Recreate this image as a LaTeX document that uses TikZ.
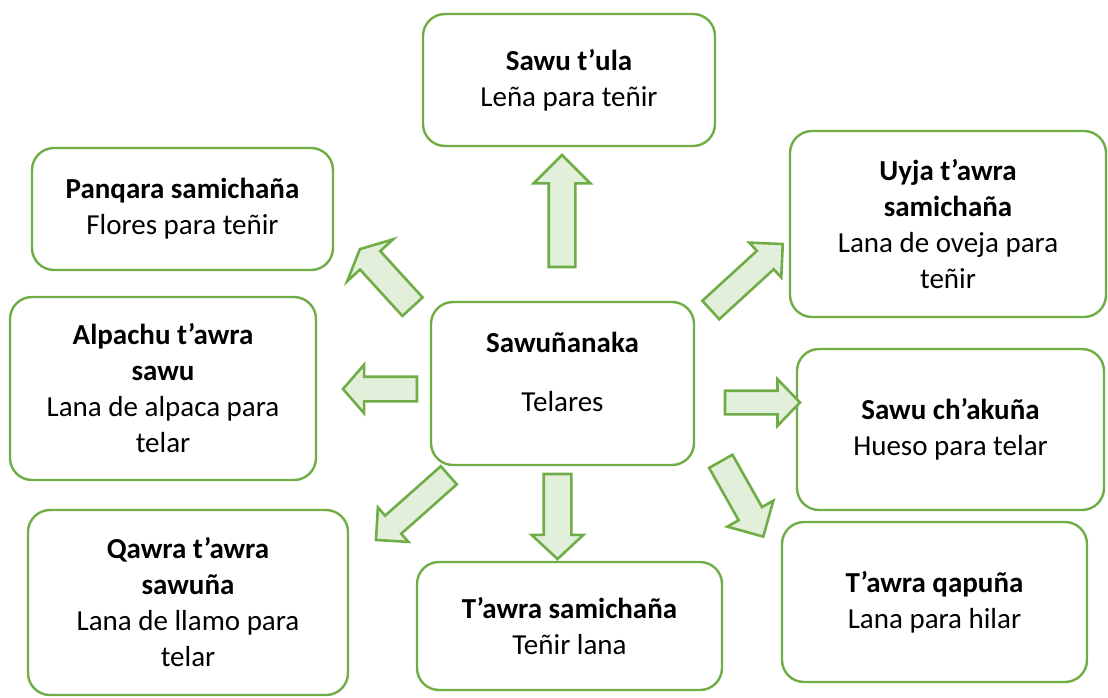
\documentclass[tikz,border=0pt]{standalone}
\usepackage{fontspec}
\setmainfont{Carlito}
\usetikzlibrary{shapes.arrows}
\definecolor{leafgreen}{HTML}{70AD47}
\definecolor{palegreen}{HTML}{E2EFDA}

\begin{document}
\begin{tikzpicture}[x=1pt,y=-1pt,
  box/.style={draw=leafgreen, line width=2.4pt, fill=white, rounded corners=22pt,
    align=center, inner sep=0pt, font=\fontsize{29}{36}\selectfont},
  blockarrow/.style={single arrow, draw=leafgreen, fill=palegreen, line width=2.6pt,
    inner xsep=0pt, outer sep=0pt, anchor=tail}]
\useasboundingbox (0,0) rectangle (1108,698);

\node[box, minimum width=292pt, minimum height=132pt] (tula) at (569,80) {\textbf{Sawu t’ula}\\Leña para teñir};
\node[box, minimum width=301pt, minimum height=122pt] (panqara) at (182.5,209) {\textbf{Panqara samichaña}\\Flores para teñir};
\node[box, minimum width=316pt, minimum height=186pt] (uyja) at (948,224) {\textbf{Uyja t’awra}\\\textbf{samichaña}\\Lana de oveja para\\teñir};
\node[box, minimum width=306pt, minimum height=183pt] (alpachu) at (163,388.5) {\textbf{Alpachu t’awra}\\\textbf{sawu}\\Lana de alpaca para\\telar};
\node[box, minimum width=263pt, minimum height=163pt] (telar) at (562.5,383.5) {\textbf{Sawuñanaka}\\[23pt]Telares\\[-13pt]\mbox{}};
\node[box, minimum width=307pt, minimum height=161pt] (chakuna) at (950.5,429.5) {\textbf{Sawu ch’akuña}\\Hueso para telar};
\node[box, minimum width=320pt, minimum height=185pt] (qawra) at (188,602.5) {\textbf{Qawra t’awra}\\\textbf{sawuña}\\Lana de llamo para\\telar};
\node[box, minimum width=305pt, minimum height=128pt] (samichana) at (569.5,626) {\textbf{T’awra samichaña}\\Teñir lana};
\node[box, minimum width=305pt, minimum height=160pt] (qapuna) at (934.5,602) {\textbf{T’awra qapuña}\\Lana para hilar};

% block arrows out of the centre box
\node[blockarrow, minimum height=112pt, inner ysep=12pt, single arrow head extend=15pt, single arrow tip angle=90, rotate=90] (a1) at (562,267) {};
\node[blockarrow, minimum height=78pt, inner ysep=12.4pt, single arrow head extend=17.4pt, single arrow tip angle=128, rotate=132.4] (a2) at (412.5,306.7) {};
\node[blockarrow, minimum height=97.6pt, inner ysep=11.2pt, single arrow head extend=11.2pt, single arrow tip angle=90, rotate=42.5] (a3) at (710.8,310) {};
\node[blockarrow, minimum height=74pt, inner ysep=11pt, single arrow head extend=12pt, single arrow tip angle=98, rotate=180] (a4) at (417,389) {};
\node[blockarrow, minimum height=75pt, inner ysep=10.5pt, single arrow head extend=11.5pt, single arrow tip angle=92, rotate=0] (a5) at (725,402.5) {};
\node[blockarrow, minimum height=86.5pt, inner ysep=12.1pt, single arrow head extend=13pt, single arrow tip angle=90, rotate=-60.6] (a6) at (720.8,461.3) {};
\node[blockarrow, minimum height=85pt, inner ysep=12.5pt, single arrow head extend=12pt, single arrow tip angle=94, rotate=-90] (a7) at (557.5,474) {};
\node[blockarrow, minimum height=97.4pt, inner ysep=10.8pt, single arrow head extend=10.9pt, single arrow tip angle=90, rotate=221.6] (a8) at (448.8,475.3) {};
\end{tikzpicture}
\end{document}
